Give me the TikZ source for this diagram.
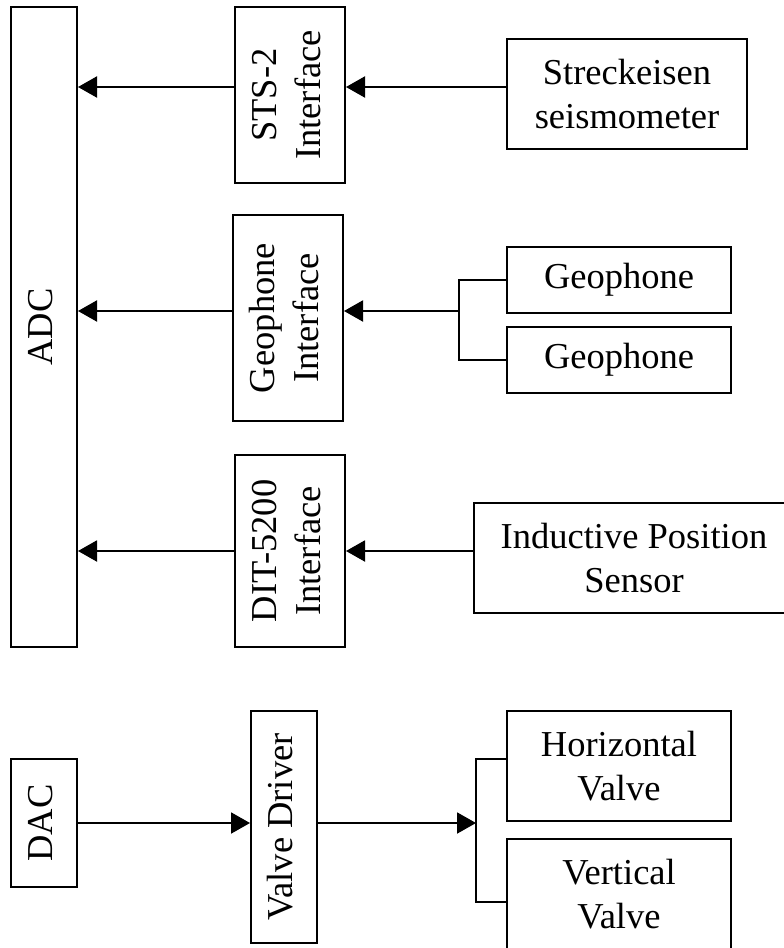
\documentclass[tikz,border=0pt]{standalone}
\usepackage{fontspec}
\setmainfont{Liberation Serif}
\usetikzlibrary{arrows.meta}
\tikzset{
  box/.style={draw, line width=2pt, inner sep=0pt, anchor=center,
    font=\fontsize{36.5}{44}\selectfont, align=center},
  arr/.style={line width=2pt, -{Triangle[length=19pt,width=21pt]}},
  ln/.style={line width=2pt},
}
\newcommand{\rtext}[1]{\rotatebox{90}{\begin{tabular}{@{}c@{}}#1\end{tabular}}}
\begin{document}
\begin{tikzpicture}[x=1pt,y=-1pt]
\useasboundingbox (0,0) rectangle (784,948);
\fill[white] (0,0) rectangle (784,948);
% boxes
\node[box, minimum width=66, minimum height=640] (adc) at (44,327) {\rtext{ADC}};
\node[box, minimum width=110, minimum height=176] (sts) at (290,95) {\rtext{STS-2\\Interface}};
\node[box, minimum width=240, minimum height=110] (stre) at (627,94) {Streckeisen\\seismometer};
\node[box, minimum width=110, minimum height=206] (gi) at (288,318) {\rtext{Geophone\\Interface}};
\node[box, minimum width=224, minimum height=66] (geo1) at (619,280) {Geophone};
\node[box, minimum width=224, minimum height=66] (geo2) at (619,360) {Geophone};
\node[box, minimum width=110, minimum height=192] (dit) at (290,551) {\rtext{DIT-5200\\Interface}};
\node[box, minimum width=320, minimum height=110] (ind) at (634,558) {Inductive Position\\Sensor};
\node[box, minimum width=66, minimum height=128] (dac) at (44,823) {\rtext{DAC}};
\node[box, minimum width=66, minimum height=232] (vd) at (284,827) {\rtext{Valve Driver}};
\node[box, minimum width=224, minimum height=110] (hv) at (619,766) {Horizontal\\Valve};
\node[box, minimum width=224, minimum height=110] (vv) at (619,894) {Vertical\\Valve};
% coordinates
\coordinate (y1) at (0,87);
\coordinate (gb) at (459,311);
\coordinate (y3) at (0,551);
\coordinate (vb) at (476,823);
\coordinate (vt) at (476,759);
\coordinate (vbot) at (476,902);
% connectors
\draw[arr] (stre.west |- y1) -- (sts.east |- y1);
\draw[arr] (sts.west |- y1) -- (adc.east |- y1);
\draw[ln] (geo1.west) -| (gb) |- (geo2.west);
\draw[arr] (gb) -- (gi.east |- gb);
\draw[arr] (gi.west |- gb) -- (adc.east |- gb);
\draw[arr] (ind.west |- y3) -- (dit.east |- y3);
\draw[arr] (dit.west |- y3) -- (adc.east |- y3);
\draw[arr] (dac.east) -- (vd.west |- dac.east);
\draw[arr] (vd.east |- vb) -- (vb);
\draw[ln] (hv.west |- vt) -- (vt) -- (vbot) -- (vv.west |- vbot);
\end{tikzpicture}
\end{document}
